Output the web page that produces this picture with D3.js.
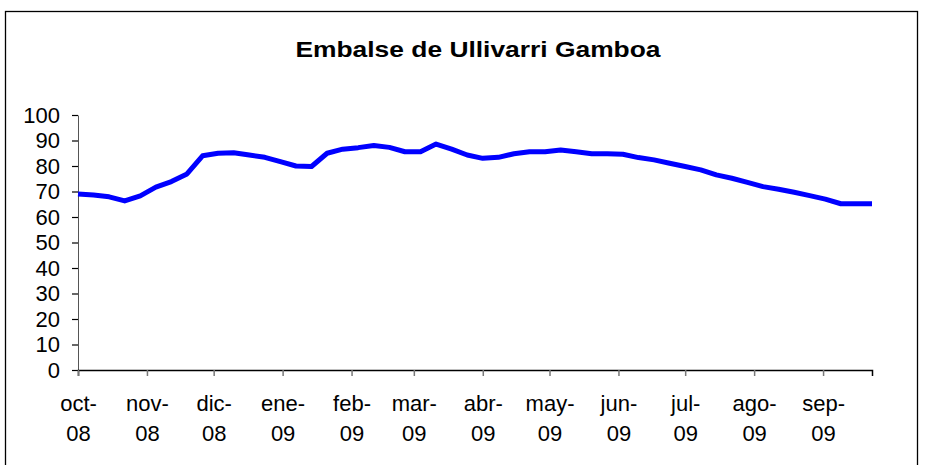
<!DOCTYPE html>
<html>
<head>
<meta charset="utf-8">
<script src="https://cdn.jsdelivr.net/npm/d3@7"></script>
<style>
  body { margin: 0; background: #fff; }
  text { font-family: Arial, "Liberation Sans", sans-serif; fill: #000; }
</style>
</head>
<body>
<div id="chart-wraper"></div>
<script>
const title = "Embalse de Ullivarri Gamboa"

// weekly readings, starting 1 Oct 2008
const startDate = "2008-10-01"
const values = [
  69.0, 68.6, 67.9, 66.3, 68.3, 71.7, 73.9, 76.9, 84.0,
  85.0, 85.2, 84.3, 83.4, 81.7, 80.0, 79.8, 85.0, 86.6,
  87.2, 88.0, 87.3, 85.6, 85.6, 88.6, 86.6, 84.3,
  83.0, 83.4, 84.8, 85.6, 85.6, 86.3, 85.6, 84.8, 84.8,
  84.6, 83.3, 82.4, 81.1, 79.8, 78.5, 76.5, 75.2, 73.6,
  71.9, 70.9, 69.7, 68.4, 67.0, 65.2, 65.2, 65.2
]
const monthLabels = ["oct-", "nov-", "dic-", "ene-", "feb-", "mar-", "abr-", "may-", "jun-", "jul-", "ago-", "sep-"]
const yTicks = [0, 10, 20, 30, 40, 50, 60, 70, 80, 90, 100]

const initChart = () => {
  const width = 936
  const height = 465
  const margin = ({ top: 115, right: 64, bottom: 95, left: 78 })

  const t0 = new Date(startDate + "T00:00:00")
  const data = values.map((v, i) => ({ date: d3.timeDay.offset(t0, i * 7), level: v }))

  const svg = d3.select("#chart-wraper").append("svg")
    .attr("width", width)
    .attr("height", height)
    .attr("viewBox", [0, 0, width, height])

  // chart frame
  svg.append("rect")
    .attr("x", 5.5).attr("y", 11.5)
    .attr("width", 912).attr("height", 470)
    .attr("fill", "none").attr("stroke", "#000").attr("stroke-width", 1.3)

  svg.append("text")
    .attr("x", 478).attr("y", 57)
    .attr("text-anchor", "middle")
    .attr("font-size", 22).attr("font-weight", "bold")
    .attr("transform", "translate(478,0) scale(1.2,1) translate(-478,0)")
    .text(title)

  const x = d3.scaleTime()
    .domain(d3.extent(data, d => d.date))
    .range([margin.left, width - margin.right])

  const y = d3.scaleLinear()
    .domain([0, 100])
    .range([height - margin.bottom, margin.top])

  const months = d3.timeMonth.range(t0, x.domain()[1])

  const xAxis = g => g
    .attr("transform", `translate(0,${height - margin.bottom})`)
    .call(d3.axisBottom(x).tickValues(months).tickSize(6).tickFormat(""))
    .call(g => g.select(".domain").attr("stroke", "#000").attr("stroke-width", 1.5))
    .call(g => g.selectAll(".tick line").attr("stroke", "#777").attr("stroke-width", 1.5))
    .call(g => g.selectAll(".tick").append("text")
      .attr("y", 41).attr("font-size", 22).attr("text-anchor", "middle")
      .attr("fill", "#000")
      .text((d, i) => monthLabels[i]))
    .call(g => g.selectAll(".tick").append("text")
      .attr("y", 71).attr("font-size", 22).attr("text-anchor", "middle")
      .attr("fill", "#000")
      .text(d => d3.timeFormat("%y")(d)))

  const yAxis = g => g
    .attr("transform", `translate(${margin.left},0)`)
    .call(d3.axisLeft(y).tickValues(yTicks).tickSize(6).tickPadding(12).tickSizeOuter(0))
    .call(g => g.select(".domain").attr("stroke", "#555").attr("stroke-width", 1))
    .call(g => g.selectAll(".tick line").attr("stroke", "#000").attr("stroke-width", 1.2))
    .call(g => g.selectAll(".tick text").attr("font-size", 22).attr("fill", "#000"))

  svg.append("g").call(yAxis)
  svg.append("g").call(xAxis)

  svg.selectAll(".tick text").attr("font-family", "Arial, 'Liberation Sans', sans-serif")

  const line = d3.line()
    .x(d => x(d.date))
    .y(d => y(d.level))

  svg.append("path")
    .datum(data)
    .attr("fill", "none")
    .attr("stroke", "#0000ff")
    .attr("stroke-width", 5)
    .attr("stroke-linejoin", "round")
    .attr("stroke-linecap", "butt")
    .attr("d", line)
}

initChart()
</script>
</body>
</html>
